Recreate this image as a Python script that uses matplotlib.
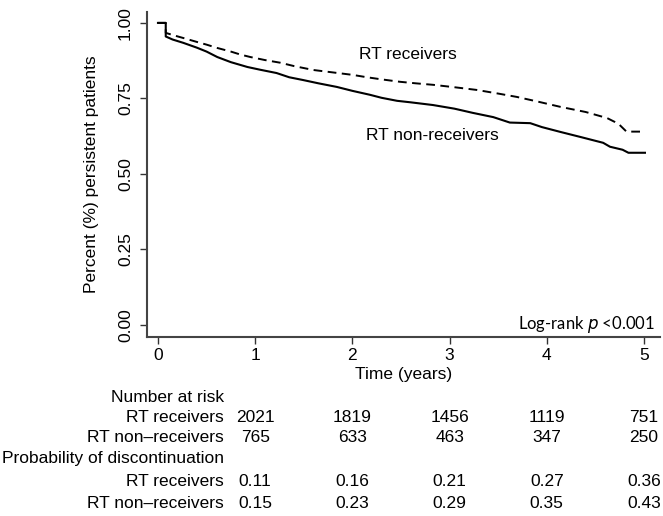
import matplotlib.pyplot as plt
import matplotlib.transforms as mtransforms

plt.rcParams['font.family'] = ['Liberation Sans', 'DejaVu Sans']

# Kaplan-Meier curves (years, proportion persistent);
# repeated times mark the vertical drops
t_rec = [0.00, 0.08, 0.08, 0.15, 0.26, 0.40, 0.50, 0.61, 0.75, 0.85, 0.95, 1.10, 1.26,
         1.40, 1.60, 1.80, 2.00, 2.15, 2.30, 2.49, 2.65, 2.83, 3.05, 3.28, 3.50,
         3.69, 3.90, 4.14, 4.40, 4.62, 4.70, 4.75, 4.82, 5.01]
s_rec = [1.000, 1.000, 0.967, 0.960, 0.950, 0.937, 0.928, 0.917, 0.905, 0.895, 0.887, 0.877, 0.868,
         0.857, 0.844, 0.836, 0.828, 0.820, 0.813, 0.805, 0.800, 0.795, 0.787, 0.778, 0.766,
         0.755, 0.740, 0.722, 0.705, 0.685, 0.672, 0.662, 0.640, 0.640]

t_non = [0.00, 0.08, 0.08, 0.15, 0.26, 0.40, 0.50, 0.61, 0.75, 0.92, 1.05, 1.22, 1.35,
         1.49, 1.65, 1.84, 2.00, 2.18, 2.30, 2.46, 2.60, 2.83, 3.05, 3.24, 3.45,
         3.62, 3.83, 3.95, 4.14, 4.35, 4.58, 4.65, 4.78, 4.84, 5.01]
s_non = [1.000, 1.000, 0.955, 0.945, 0.934, 0.918, 0.905, 0.887, 0.870, 0.854, 0.845, 0.834, 0.820,
         0.811, 0.800, 0.788, 0.775, 0.762, 0.752, 0.742, 0.737, 0.728, 0.716, 0.702, 0.688,
         0.670, 0.668, 0.655, 0.639, 0.622, 0.603, 0.590, 0.580, 0.570, 0.570]

# table under the plot
table_years = [1, 2, 3, 4, 5]
risk_rec = ['2021', '1819', '1456', '1119', '751']
risk_non = ['765', '633', '463', '347', '250']
prob_rec = ['0.11', '0.16', '0.21', '0.27', '0.36']
prob_non = ['0.15', '0.23', '0.29', '0.35', '0.43']

FS = 12.5

fig = plt.figure(figsize=(6.63, 5.16), dpi=100)
ax = fig.add_axes([0.2217, 0.3469, 0.7738, 0.6298])

ax.plot(t_rec, s_rec, color='black', lw=1.4, linestyle=(0, (4.5, 2.8)))
ax.plot(t_non, s_non, color='black', lw=1.5)

ax.set_xlim(-0.113, 5.165)
ax.set_ylim(-0.040, 1.036)
ax.set_xticks([0, 1, 2, 3, 4, 5])
ax.set_yticks([0, 0.25, 0.5, 0.75, 1.0])
ax.set_yticklabels(['0.00', '0.25', '0.50', '0.75', '1.00'], rotation=90, va='center')
ax.tick_params(axis='both', labelsize=FS, length=5, width=1.0, color='#333333')
ax.tick_params(axis='y', pad=5)
ax.tick_params(axis='x', pad=3)

for side in ['top', 'right']:
    ax.spines[side].set_visible(False)
for side in ['left', 'bottom']:
    ax.spines[side].set_linewidth(1.5)
    ax.spines[side].set_color('#444444')

ax.set_xlabel('Time (years)', fontsize=FS, labelpad=3)
ax.set_ylabel('Percent (%) persistent patients', fontsize=FS, labelpad=14)

ax.text(2.07, 0.894, 'RT receivers', fontsize=FS, va='center', ha='left')
ax.text(2.14, 0.626, 'RT non-receivers', fontsize=FS, va='center', ha='left')
ax.text(0.99, 0.04, 'Log-rank $\\it{p}$ <0.001', transform=ax.transAxes,
        fontsize=12, ha='right', va='center', family=['Lato', 'DejaVu Sans'])

# number at risk / probability table
trans = mtransforms.blended_transform_factory(ax.transData, fig.transFigure)
label_x = 224 / 663
rows = [
    ('Number at risk', None),
    ('RT receivers', risk_rec),
    ('RT non\u2013receivers', risk_non),
    ('Probability of discontinuation', None),
    ('RT receivers', prob_rec),
    ('RT non\u2013receivers', prob_non),
]
row_y = [397, 417, 438, 459, 481, 503]
for (label, vals), py in zip(rows, row_y):
    fy = 1 - py / 516
    fig.text(label_x, fy, label, fontsize=FS, ha='right', va='center')
    if vals is not None:
        for yr, v in zip(table_years, vals):
            ax.text(yr, fy, v, transform=trans, fontsize=FS, ha='center', va='center')

plt.savefig('out.png', dpi=100)
